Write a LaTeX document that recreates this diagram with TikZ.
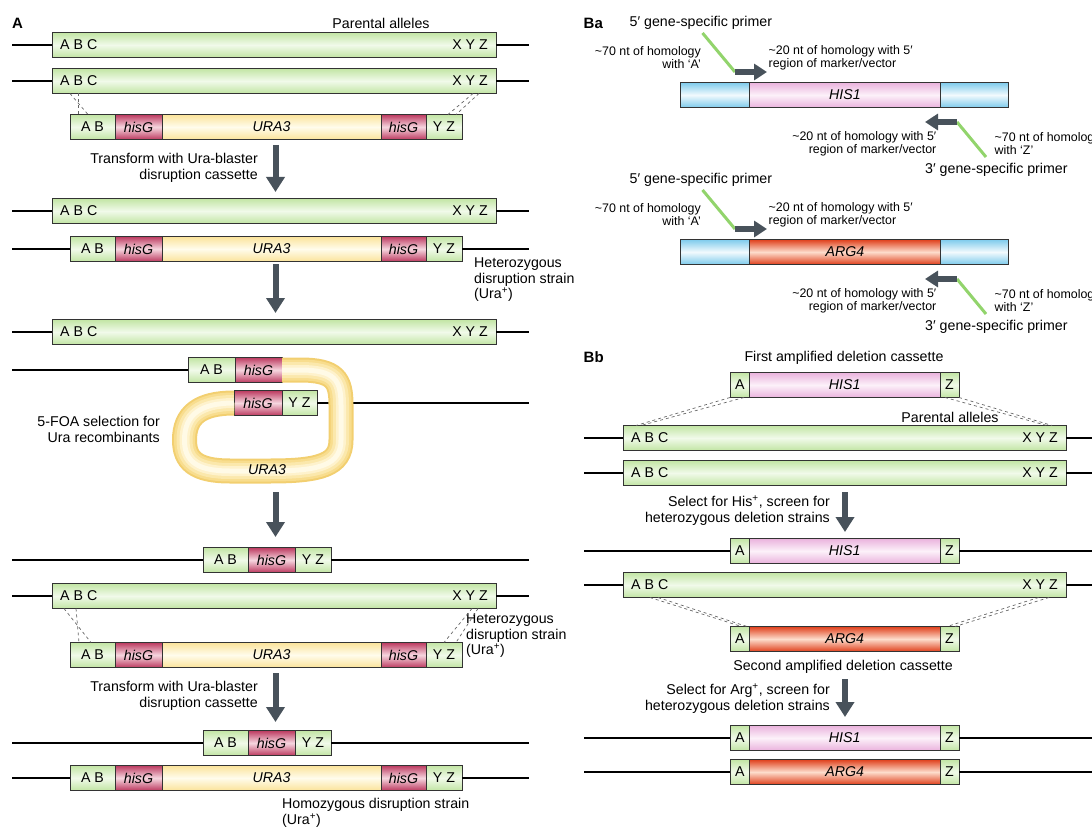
\documentclass[tikz,border=0pt]{standalone}
\usepackage{fontspec}
\setmainfont{Liberation Sans}
\usetikzlibrary{arrows.meta}

\definecolor{gEdge}{HTML}{C2E5A4}
\definecolor{gMid}{HTML}{F1FAEA}
\definecolor{hEdge}{HTML}{BC3A60}
\definecolor{hMid}{HTML}{F6D6DF}
\definecolor{uEdge}{HTML}{FBE39A}
\definecolor{uMid}{HTML}{FFFCEC}
\definecolor{pEdge}{HTML}{EAB3DD}
\definecolor{pMid}{HTML}{FCF1F9}
\definecolor{rEdge}{HTML}{E0401C}
\definecolor{rMid}{HTML}{FDDDCC}
\definecolor{bEdge}{HTML}{7ECBEC}
\definecolor{bMid}{HTML}{F2FAFD}
\definecolor{arrGrey}{HTML}{48525B}
\definecolor{primGreen}{HTML}{92D46C}

\tikzset{
  seg/.style={draw=black!80, line width=0.7pt, minimum height=25pt, inner sep=0pt,
    outer sep=0pt, anchor=west, font=\fontsize{14.2}{15.5}\selectfont},
  ital/.style={font=\fontsize{14.2}{15.5}\selectfont\itshape},
  grn/.style={seg, top color=gEdge, bottom color=gEdge, middle color=gMid},
  hisg/.style={seg, ital, top color=hEdge, bottom color=hEdge, middle color=hMid},
  ura/.style={seg, ital, top color=uEdge, bottom color=uEdge, middle color=uMid},
  his/.style={seg, ital, top color=pEdge, bottom color=pEdge, middle color=pMid},
  arg/.style={seg, ital, top color=rEdge, bottom color=rEdge, middle color=rMid},
  blu/.style={seg, top color=bEdge, bottom color=bEdge, middle color=bMid},
  chr/.style={line width=1.8pt, black},
  flow/.style={line width=6pt, draw=arrGrey, -{Triangle[width=18pt,length=15pt]}},
  pshaft/.style={line width=6pt, draw=arrGrey, -{Triangle[width=16pt,length=13pt]}},
  primer/.style={line width=3pt, draw=primGreen},
  hom/.style={dashed, draw=black!60, line width=0.7pt},
  lab/.style={font=\fontsize{14.2}{15.5}\selectfont, inner sep=0pt},
  note/.style={font=\fontsize{12.4}{13}\selectfont, inner sep=0pt},
  ttl/.style={font=\fontsize{15}{17}\selectfont\bfseries, inner sep=0pt, anchor=west},
}

% parental allele: name, left x, centre y, width
\newcommand{\abcrow}[4]{%
  \node[grn, minimum width=#4pt] (#1) at (#2,#3) {};
  \node[lab, anchor=west] (#1l) at ([xshift=8pt]#1.west) {A B C};
  \node[lab, anchor=east] (#1r) at ([xshift=-8pt]#1.east) {X Y Z};
}
% Ura-blaster cassette
\newcommand{\urablaster}[3]{%
  \node[grn, minimum width=45pt] (#1a) at (#2,#3) {A B};
  \node[hisg, minimum width=47pt] (#1b) at (#1a.east) {hisG};
  \node[ura, minimum width=219pt] (#1c) at (#1b.east) {URA3};
  \node[hisg, minimum width=45pt] (#1d) at (#1c.east) {hisG};
  \node[grn, minimum width=36pt] (#1e) at (#1d.east) {Y Z};
}
% hisG scar
\newcommand{\scar}[3]{%
  \node[grn, minimum width=45pt] (#1a) at (#2,#3) {A B};
  \node[hisg, minimum width=47pt] (#1b) at (#1a.east) {hisG};
  \node[grn, minimum width=36pt] (#1c) at (#1b.east) {Y Z};
}
% deletion cassette: name, x, y, style, marker
\newcommand{\delcas}[5]{%
  \node[grn, minimum width=19.5pt] (#1a) at (#2,#3) {A};
  \node[#4, minimum width=190.5pt] (#1b) at (#1a.east) {#5};
  \node[grn, minimum width=19pt] (#1c) at (#1b.east) {Z};
}
% PCR of a marker with gene-specific primers
\newcommand{\primerset}[3]{%
  \node[lab, anchor=west] (#1g5) at (629.5,23) {5′ gene-specific primer};
  \node[blu, minimum width=69pt] (#1a) at (680.5,95) {};
  \node[#2, minimum width=191pt] (#1b) at (#1a.east) {#3};
  \node[blu, minimum width=68pt] (#1c) at (#1b.east) {};
  \coordinate (#1p) at (702.5,33);
  \coordinate (#1q) at (735,72);
  \draw[primer] (#1p) -- (#1q);
  \draw[pshaft] (#1q) -- ++(32,0);
  \node[note, anchor=east, align=right] (#1n1) at (701,57.5) {\textasciitilde70 nt of homology\\with `A'};
  \node[note, anchor=west, align=left] (#1n2) at (768.5,57.5) {\textasciitilde20 nt of homology with 5′\\region of marker/vector};
  \coordinate (#1r) at (957,122);
  \coordinate (#1s) at (986,157);
  \draw[primer] (#1r) -- (#1s);
  \draw[pshaft] (#1r) -- ++(-32,0);
  \node[note, anchor=east, align=right] (#1n3) at (936.5,143.5) {\textasciitilde20 nt of homology with 5′\\region of marker/vector};
  \node[note, anchor=west, align=left] (#1n4) at (994.5,143.5) {\textasciitilde70 nt of homology\\with `Z'};
  \node[lab, anchor=west] (#1g3) at (925,170) {3′ gene-specific primer};
}

\begin{document}
\begin{tikzpicture}[x=1pt,y=-1pt]
\useasboundingbox (0,0) rectangle (1092,829);
\clip (0,0) rectangle (1092,829);

% ---- A
\node[ttl] (tA) at (12,23) {A};
\node[lab] (par1) at (381,23) {Parental alleles};
\abcrow{r1}{52}{45}{444}
\abcrow{r2}{52}{81}{444}
\draw[chr] (r1.west) -- ++(-40,0);
\draw[chr] (r1.east) -- ++(33,0);
\draw[chr] (r2.west) -- ++(-40,0);
\draw[chr] (r2.east) -- ++(33,0);
\urablaster{c1}{70}{127}
\draw[hom] ([xshift=18pt]r2.south west) -- ([xshift=18pt]c1a.north west);
\draw[hom] ([xshift=26pt]r2.south west) -- ([xshift=8pt]c1a.north west);
\draw[hom] ([xshift=-23pt]r2.south east) -- ([xshift=-14pt]c1e.north east);
\draw[hom] ([xshift=-17pt]r2.south east) -- ([xshift=-6pt]c1e.north east);
\coordinate (f1a) at (275.5,145);
\coordinate (f1b) at (275.5,192);
\draw[flow] (f1a) -- (f1b);
\node[lab, anchor=east, align=right] (t1) at (258,168) {Transform with Ura-blaster\\disruption cassette};

\abcrow{r3}{52}{211}{444}
\draw[chr] (r3.west) -- ++(-40,0);
\draw[chr] (r3.east) -- ++(33,0);
\urablaster{c2}{70}{249}
\draw[chr] (c2a.west) -- ++(-58,0);
\draw[chr] (c2e.east) -- ++(67,0);
\node[lab, anchor=west, align=left] (t2) at (474,280) {Heterozygous\\disruption strain\\(Ura\textsuperscript{+})};
\coordinate (f2a) at (275.5,264);
\coordinate (f2b) at (275.5,313);
\draw[flow] (f2a) -- (f2b);

\abcrow{r5}{52}{332}{444}
\draw[chr] (r5.west) -- ++(-40,0);
\draw[chr] (r5.east) -- ++(33,0);
% looped-out intermediate
\node[grn, minimum width=47pt] (l1a) at (188,370) {A B};
\node[hisg, minimum width=47pt] (l1b) at (l1a.east) {hisG};
\node[hisg, minimum width=48pt] (l2a) at (234,403) {hisG};
\node[grn, minimum width=35pt] (l2b) at (l2a.east) {Y Z};
\draw[chr] (l1a.west) -- ++(-176,0);
\draw[chr] (l2b.east) -- ++(212,0);
\foreach \w/\c in {25/{rgb,255:red,242;green,207;blue,112}, 21/{rgb,255:red,248;green,221;blue,142},
    16/{rgb,255:red,251;green,232;blue,172}, 10/{rgb,255:red,254;green,242;blue,204}, 5/{rgb,255:red,255;green,250;blue,230}}
  \draw[line width=\w pt, color=\c] (l1b.east) -- (300,370)
    .. controls (335,370) and (341,380) .. (341,405) -- (341,440)
    .. controls (341,465) and (320,471) .. (270,471) -- (230,471)
    .. controls (195,471) and (184.5,460) .. (184.5,440)
    .. controls (184.5,415) and (200,403) .. (l2a.west);
\node[lab, font=\fontsize{14.2}{15.5}\selectfont\itshape] (t3u) at (267,470) {URA3};
\node[lab, anchor=east, align=right] (t3) at (160,429.5) {5-FOA selection for\\Ura recombinants};
\coordinate (f3a) at (275.5,492);
\coordinate (f3b) at (275.5,537);
\draw[flow] (f3a) -- (f3b);

\scar{s1}{203}{560}
\draw[chr] (s1a.west) -- ++(-191,0);
\draw[chr] (s1c.east) -- ++(198,0);
\abcrow{r8}{52}{596}{444}
\draw[chr] (r8.west) -- ++(-40,0);
\draw[chr] (r8.east) -- ++(33,0);
\node[lab, anchor=west, align=left] (t4) at (466,636) {Heterozygous\\disruption strain\\(Ura\textsuperscript{+})};
\urablaster{c3}{70}{655}
\draw[hom] ([xshift=12pt]r8.south west) -- ([xshift=21pt]c3a.north west);
\draw[hom] ([xshift=24pt]r8.south west) -- ([xshift=9pt]c3a.north west);
\draw[hom] ([xshift=-24pt]r8.south east) -- ([xshift=-18pt]c3e.north east);
\draw[hom] ([xshift=-18pt]r8.south east) -- ([xshift=-6pt]c3e.north east);
\coordinate (f4a) at (275.5,673);
\coordinate (f4b) at (275.5,722);
\draw[flow] (f4a) -- (f4b);
\node[lab, anchor=east, align=right] (t5) at (258,696) {Transform with Ura-blaster\\disruption cassette};

\scar{s2}{203}{743}
\draw[chr] (s2a.west) -- ++(-191,0);
\draw[chr] (s2c.east) -- ++(198,0);
\urablaster{c4}{70}{778}
\draw[chr] (c4a.west) -- ++(-58,0);
\draw[chr] (c4e.east) -- ++(67,0);
\node[lab, anchor=west, align=left] (t6) at (282,813) {Homozygous disruption strain\\(Ura\textsuperscript{+})};

% ---- Ba
\node[ttl] (tBa) at (583.5,23) {Ba};
\primerset{m1}{his}{HIS1}
\begin{scope}[shift={(0,157)}]
\primerset{m2}{arg}{ARG4}
\end{scope}

% ---- Bb
\node[ttl] (tBb) at (583.5,357) {Bb};
\node[lab] (b1) at (844,358) {First amplified deletion cassette};
\delcas{d1}{730}{385}{his}{HIS1}
\node[lab] (par2) at (950,417) {Parental alleles};
\abcrow{q1}{623}{438}{443}
\abcrow{q2}{623}{473}{443}
\draw[chr] (q1.west) -- ++(-39,0);
\draw[chr] (q1.east) -- ++(40,0);
\draw[chr] (q2.west) -- ++(-39,0);
\draw[chr] (q2.east) -- ++(40,0);
\draw[hom] (d1a.south west) -- ([xshift=13pt]q1.north west);
\draw[hom] ([xshift=14pt]d1a.south west) -- ([xshift=18pt]q1.north west);
\draw[hom] (d1c.south east) -- ([xshift=-14pt]q1.north east);
\draw[hom] ([xshift=-14pt]d1c.south east) -- ([xshift=-19pt]q1.north east);
\coordinate (f5a) at (845,492);
\coordinate (f5b) at (845,532);
\draw[flow] (f5a) -- (f5b);
\node[lab, anchor=east, align=right] (b3) at (830,510.5) {Select for His\textsuperscript{+}, screen for\\heterozygous deletion strains};

\delcas{d2}{730}{551}{his}{HIS1}
\draw[chr] (d2a.west) -- ++(-146,0);
\draw[chr] (d2c.east) -- ++(140,0);
\abcrow{q3}{623}{585}{443}
\draw[chr] (q3.west) -- ++(-39,0);
\draw[chr] (q3.east) -- ++(40,0);
\delcas{d3}{730}{639}{arg}{ARG4}
\draw[hom] ([xshift=27pt]q3.south west) -- ([xshift=11.5pt]d3a.north west);
\draw[hom] ([xshift=35pt]q3.south west) -- ([xshift=17pt]d3a.north west);
\draw[hom] ([xshift=-27.5pt]q3.south east) -- ([xshift=-12pt]d3c.north east);
\draw[hom] ([xshift=-17pt]q3.south east) -- ([xshift=-4pt]d3c.north east);
\node[lab] (b4) at (843,667) {Second amplified deletion cassette};
\coordinate (f6a) at (845,679);
\coordinate (f6b) at (845,717);
\draw[flow] (f6a) -- (f6b);
\node[lab, anchor=east, align=right] (b5) at (830,698.5) {Select for Arg\textsuperscript{+}, screen for\\heterozygous deletion strains};

\delcas{d4}{730}{738}{his}{HIS1}
\draw[chr] (d4a.west) -- ++(-146,0);
\draw[chr] (d4c.east) -- ++(140,0);
\delcas{d5}{730}{772}{arg}{ARG4}
\draw[chr] (d5a.west) -- ++(-146,0);
\draw[chr] (d5c.east) -- ++(140,0);
\end{tikzpicture}
\end{document}
